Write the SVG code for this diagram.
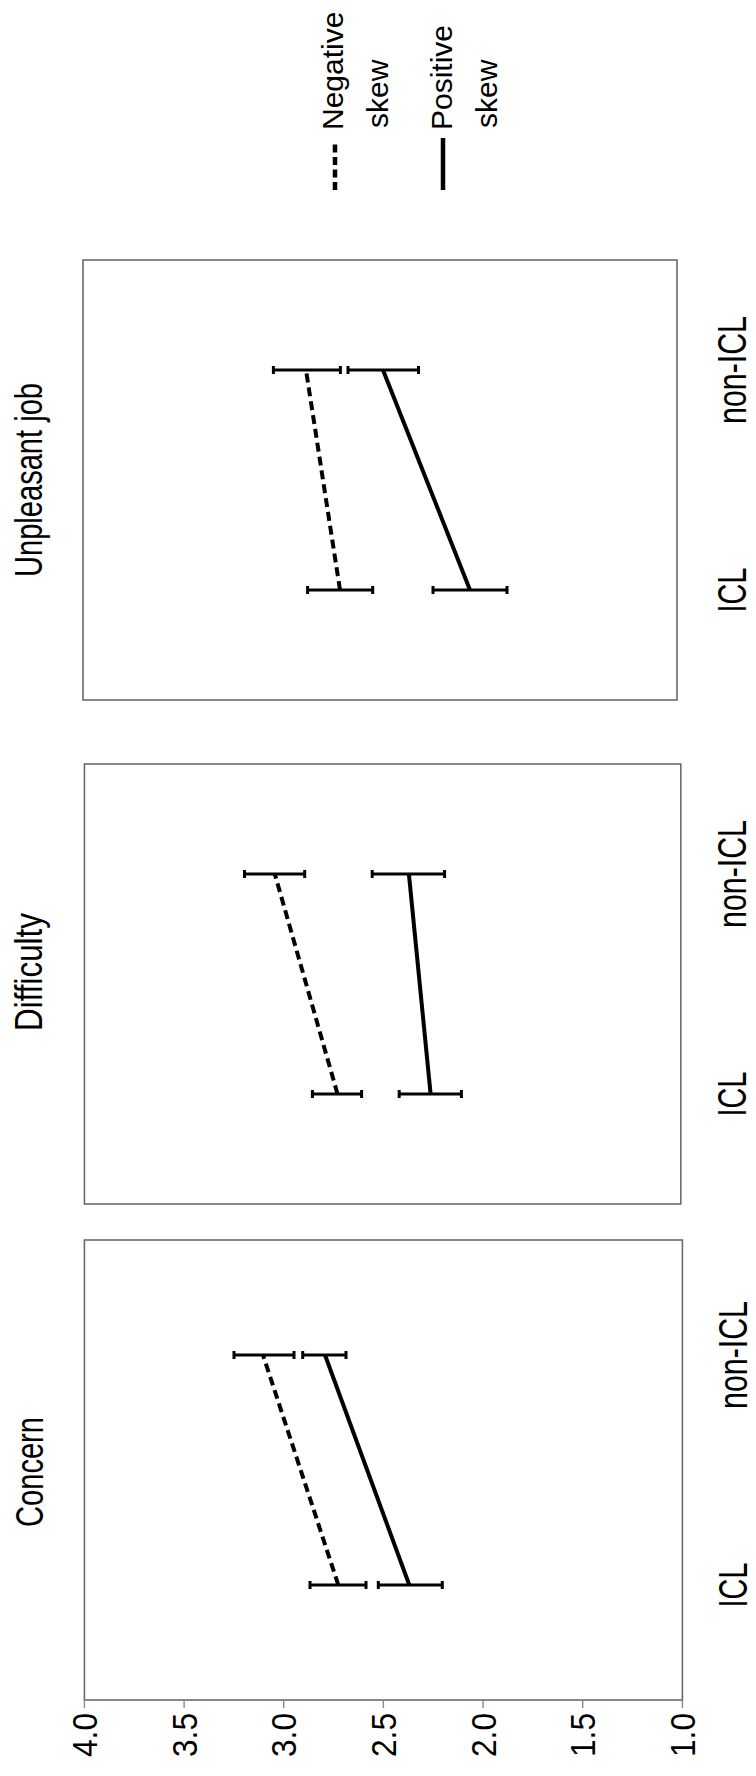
<svg xmlns="http://www.w3.org/2000/svg" width="756" height="1776" viewBox="0 0 756 1776">
<style>
.box{fill:#fff;stroke:#6a6a6a;stroke-width:1.6}
.tick{stroke:#8a8a8a;stroke-width:1.4}
.t{font-family:"Liberation Sans",Arial,sans-serif;fill:#000}
.title{font-size:39px}
.cat{font-size:40px}
.num{font-size:35px}
.leg{font-size:30px}
.sol{stroke:#000;stroke-width:4;fill:none}
.dsh{stroke:#000;stroke-width:4;fill:none;stroke-dasharray:9 5}
.eb{stroke:#000;stroke-width:3;fill:none}
</style>
<rect width="756" height="1776" fill="#fff"/>

<g id="legend">
<line x1="335" y1="190" x2="335" y2="140" style="stroke:#000;stroke-width:4.5;stroke-dasharray:8 4.5"/>
<line x1="443" y1="190" x2="443" y2="138" style="stroke:#000;stroke-width:4.5"/>
<text class="t leg" transform="translate(343,130) rotate(-90)">Negative</text>
<text class="t leg" transform="translate(388,128) rotate(-90)">skew</text>
<text class="t leg" transform="translate(452,130) rotate(-90)">Positive</text>
<text class="t leg" transform="translate(497,128) rotate(-90)">skew</text>
</g>

<g id="panel-unpleasant">
<rect class="box" x="83" y="260" width="594" height="440"/>
<text class="t title" text-anchor="middle" textLength="194" lengthAdjust="spacingAndGlyphs" transform="translate(42,480) rotate(-90)">Unpleasant job</text>
<text class="t cat" text-anchor="middle" textLength="45" lengthAdjust="spacingAndGlyphs" transform="translate(746,590) rotate(-90)">ICL</text>
<text class="t cat" text-anchor="middle" textLength="108" lengthAdjust="spacingAndGlyphs" transform="translate(746,370) rotate(-90)">non-ICL</text>
</g>

<g id="panel-difficulty">
<rect class="box" x="84.4" y="764" width="596.4" height="440"/>
<text class="t title" text-anchor="middle" textLength="118" lengthAdjust="spacingAndGlyphs" transform="translate(42,972) rotate(-90)">Difficulty</text>
<text class="t cat" text-anchor="middle" textLength="45" lengthAdjust="spacingAndGlyphs" transform="translate(746,1094) rotate(-90)">ICL</text>
<text class="t cat" text-anchor="middle" textLength="108" lengthAdjust="spacingAndGlyphs" transform="translate(746,874) rotate(-90)">non-ICL</text>
</g>

<g id="panel-concern">
<rect class="box" x="84.4" y="1240" width="598" height="460"/>
<text class="t title" text-anchor="middle" textLength="110" lengthAdjust="spacingAndGlyphs" transform="translate(43,1472) rotate(-90)">Concern</text>
<text class="t cat" text-anchor="middle" textLength="45" lengthAdjust="spacingAndGlyphs" transform="translate(747,1585) rotate(-90)">ICL</text>
<text class="t cat" text-anchor="middle" textLength="108" lengthAdjust="spacingAndGlyphs" transform="translate(747,1355) rotate(-90)">non-ICL</text>
</g>

<g id="axis">
<line class="tick" x1="84.4" y1="1700" x2="84.4" y2="1708"/>
<line class="tick" x1="184.1" y1="1700" x2="184.1" y2="1708"/>
<line class="tick" x1="283.7" y1="1700" x2="283.7" y2="1708"/>
<line class="tick" x1="383.4" y1="1700" x2="383.4" y2="1708"/>
<line class="tick" x1="483.1" y1="1700" x2="483.1" y2="1708"/>
<line class="tick" x1="582.7" y1="1700" x2="582.7" y2="1708"/>
<line class="tick" x1="682.4" y1="1700" x2="682.4" y2="1708"/>
<text class="t num" text-anchor="end" textLength="44" lengthAdjust="spacingAndGlyphs" transform="translate(97,1713) rotate(-90)">4.0</text>
<text class="t num" text-anchor="end" textLength="44" lengthAdjust="spacingAndGlyphs" transform="translate(196.6,1713) rotate(-90)">3.5</text>
<text class="t num" text-anchor="end" textLength="44" lengthAdjust="spacingAndGlyphs" transform="translate(296.2,1713) rotate(-90)">3.0</text>
<text class="t num" text-anchor="end" textLength="44" lengthAdjust="spacingAndGlyphs" transform="translate(395.9,1713) rotate(-90)">2.5</text>
<text class="t num" text-anchor="end" textLength="44" lengthAdjust="spacingAndGlyphs" transform="translate(495.6,1713) rotate(-90)">2.0</text>
<text class="t num" text-anchor="end" textLength="44" lengthAdjust="spacingAndGlyphs" transform="translate(595.2,1713) rotate(-90)">1.5</text>
<text class="t num" text-anchor="end" textLength="44" lengthAdjust="spacingAndGlyphs" transform="translate(694.9,1713) rotate(-90)">1.0</text>
</g>

<g id="connectors">
<line class="dsh" x1="340" y1="590" x2="306" y2="370"/>
<line class="sol" x1="470" y1="590" x2="383" y2="370"/>
<path class="eb" d="M307.6,590H372.7M307.6,586V594M372.7,586V594"/>
<path class="eb" d="M273.4,370H340.4M273.4,366V374M340.4,366V374"/>
<path class="eb" d="M433,590H507M433,586V594M507,586V594"/>
<path class="eb" d="M348,370H418.5M348,366V374M418.5,366V374"/>
<line class="dsh" x1="337.5" y1="1094" x2="274.8" y2="874"/>
<line class="sol" x1="430.6" y1="1094" x2="408.9" y2="874"/>
<path class="eb" d="M312.4,1094H361.6M312.4,1090V1098M361.6,1090V1098"/>
<path class="eb" d="M244.5,874H304.7M244.5,870V878M304.7,870V878"/>
<path class="eb" d="M399.2,1094H461.4M399.2,1090V1098M461.4,1090V1098"/>
<path class="eb" d="M372.2,874H444.6M372.2,870V878M444.6,870V878"/>
<line class="dsh" x1="338.3" y1="1585" x2="263" y2="1355"/>
<line class="sol" x1="409.3" y1="1585" x2="325" y2="1355"/>
<path class="eb" d="M310,1585H366M310,1581V1589M366,1581V1589"/>
<path class="eb" d="M234,1355H294M234,1351V1359M294,1351V1359"/>
<path class="eb" d="M378.3,1585H442.3M378.3,1581V1589M442.3,1581V1589"/>
<path class="eb" d="M302.7,1355H346M302.7,1351V1359M346,1351V1359"/>
</g>
</svg>
